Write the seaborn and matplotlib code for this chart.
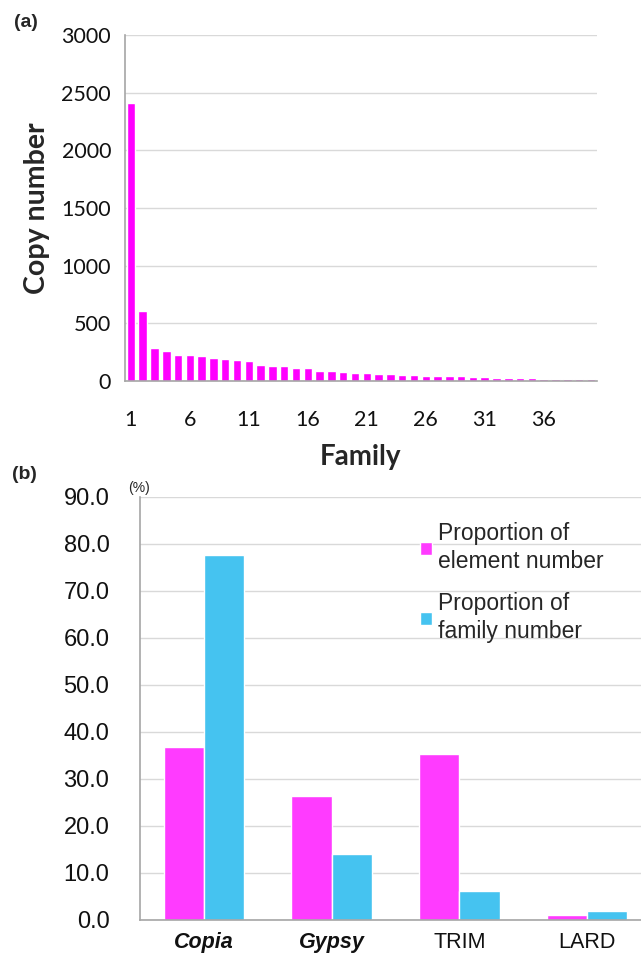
import numpy as np
import pandas as pd
import matplotlib
matplotlib.use("Agg")
import matplotlib.pyplot as plt
from matplotlib.ticker import FixedLocator, FormatStrFormatter
import seaborn as sns

# (a) copy number of each family, sorted
families = list(range(1, 41))
copy_numbers = [2410, 610, 289, 260, 223, 223, 214, 203, 194, 186,
                177, 140, 129, 129, 109, 109, 91, 91, 80, 71,
                71, 63, 63, 54, 54, 43, 43, 43, 43, 31,
                31, 23, 23, 23, 23, 14, 14, 14, 14, 14]
family_ticks = [1, 6, 11, 16, 21, 26, 31, 36]

# (b) proportions by superfamily
superfamilies = ["Copia", "Gypsy", "TRIM", "LARD"]
element_prop = [36.9, 26.3, 35.4, 1.0]
family_prop = [77.6, 14.1, 6.1, 1.9]
series_names = ["Proportion of\nelement number", "Proportion of\nfamily number"]

GRID = "#D9D9D9"
SPINE = "#A6A6A6"


def style_axes(ax):
    for s in ["top", "right"]:
        ax.spines[s].set_visible(False)
    for s in ["left", "bottom"]:
        ax.spines[s].set_color(SPINE)
        ax.spines[s].set_linewidth(1.2)
    ax.yaxis.grid(True, color=GRID, linewidth=1.0)
    ax.xaxis.grid(False)
    ax.set_axisbelow(True)
    ax.tick_params(axis="both", which="both", color=SPINE, direction="out")


def plot_copy_number(fig):
    ax = fig.add_axes([0.195, 0.6027, 0.736, 0.3608])
    df = pd.DataFrame({"family": families, "copies": copy_numbers})
    sns.barplot(data=df, x="family", y="copies", color="#FF00FF",
                width=0.72, saturation=1, ax=ax)
    style_axes(ax)
    ax.set_xlim(-0.5, len(families) - 0.5)
    ax.set_ylim(0, 3000)
    ax.set_yticks(np.arange(0, 3001, 500))
    ax.set_xticks([families.index(f) for f in family_ticks])
    ax.set_xticklabels([str(f) for f in family_ticks])
    ax.xaxis.set_minor_locator(FixedLocator(np.arange(-0.5, len(families), 1)))
    ax.tick_params(axis="x", which="major", length=0, pad=21)
    ax.tick_params(axis="x", which="minor", length=7, width=1.2)
    ax.tick_params(axis="y", length=6, width=1.2, pad=4)
    for lab in ax.get_xticklabels() + ax.get_yticklabels():
        lab.set_fontfamily("Lato")
        lab.set_fontsize(15.5)
        lab.set_color("#111111")
    ax.set_xlabel("Family", fontsize=20, fontweight="bold", family="Lato", labelpad=10)
    ax.set_ylabel("Copy number", fontsize=20.5, fontweight="bold", family="Lato", labelpad=8)
    fig.text(0.022, 0.977, "(a)", fontsize=14, fontweight="bold",
             family="Liberation Sans", va="center")


def plot_proportions(fig):
    ax = fig.add_axes([0.2184, 0.0407, 0.797, 0.4411])
    df = pd.DataFrame({
        "type": superfamilies * 2,
        "value": element_prop + family_prop,
        "series": [series_names[0]] * 4 + [series_names[1]] * 4,
    })
    sns.barplot(data=df, x="type", y="value", hue="series",
                palette=["#FF3BFF", "#45C3F0"], width=0.63, gap=0,
                saturation=1, ax=ax)
    style_axes(ax)
    ax.set_xlim(-0.5, len(superfamilies) - 0.5)
    ax.set_ylim(0, 90)
    ax.set_yticks(np.arange(0, 91, 10))
    ax.yaxis.set_major_formatter(FormatStrFormatter("%.1f"))
    ax.xaxis.set_minor_locator(FixedLocator(np.arange(-0.5, len(superfamilies), 1)))
    ax.tick_params(axis="x", which="major", length=0, pad=9)
    ax.tick_params(axis="x", which="minor", length=8, width=1.2)
    ax.tick_params(axis="y", length=6, width=1.2, pad=16)
    for lab in ax.get_yticklabels():
        lab.set_fontfamily("Liberation Sans")
        lab.set_fontsize(17)
        lab.set_color("#111111")
    for lab in ax.get_xticklabels():
        lab.set_fontfamily("Liberation Sans")
        lab.set_fontsize(15.5)
        lab.set_color("#111111")
        if lab.get_text() in ("Copia", "Gypsy"):
            lab.set_fontstyle("italic")
            lab.set_fontweight("bold")
    ax.set_xlabel("")
    ax.set_ylabel("")
    ax.legend(loc="upper left", bbox_to_anchor=(0.508, 0.99), frameon=False,
              prop={"family": "Liberation Sans", "size": 16.5},
              handlelength=0.5, handleheight=0.5, handletextpad=0.3,
              labelspacing=0.8)
    for t in ax.get_legend().get_texts():
        t.set_linespacing(1.3)
    fig.text(0.2, 0.491, "(%)", fontsize=10, family="Liberation Sans", va="center")
    fig.text(0.019, 0.505, "(b)", fontsize=14, fontweight="bold",
             family="Liberation Sans", va="center")


def main():
    sns.set_style("white")
    fig = plt.figure(figsize=(6.41, 9.59), dpi=100)
    plot_copy_number(fig)
    plot_proportions(fig)
    fig.savefig("out.png", dpi=100)


if __name__ == "__main__":
    main()
